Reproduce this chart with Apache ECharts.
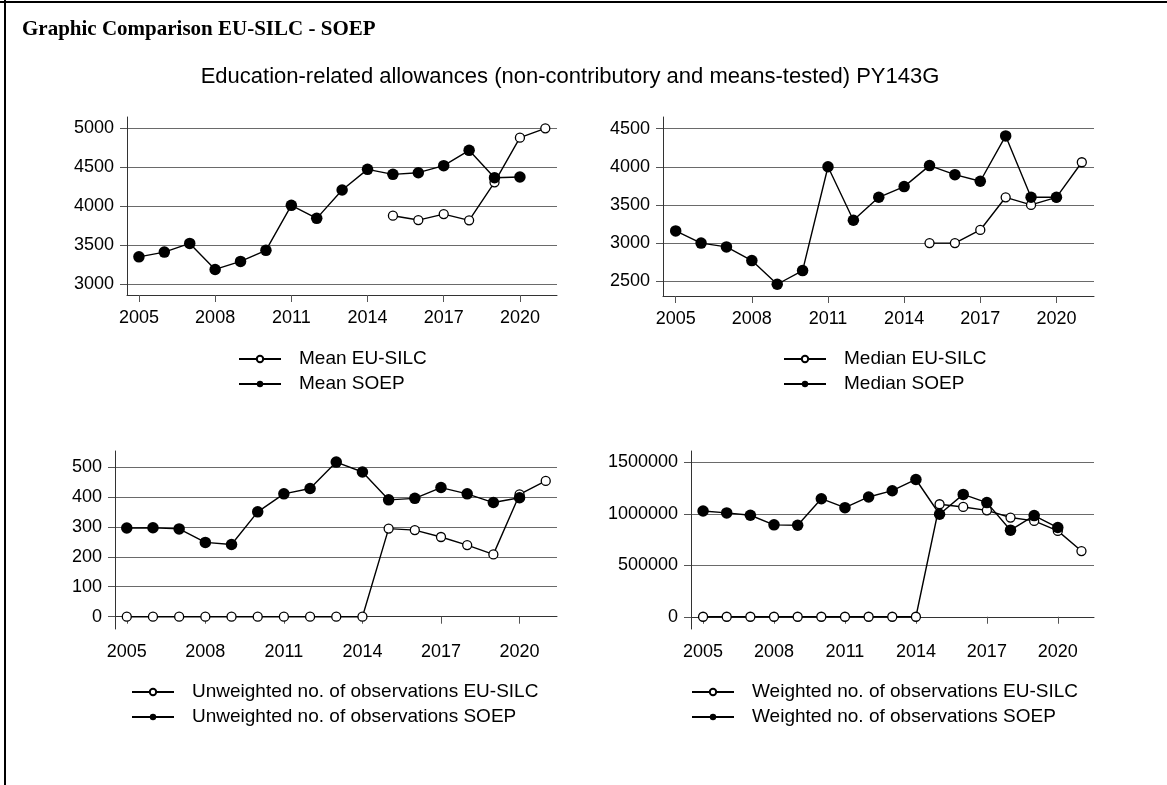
<!DOCTYPE html>
<html><head><meta charset="utf-8">
<script src="https://cdn.jsdelivr.net/npm/echarts@6/dist/echarts.min.js"></script>
<style>html,body{margin:0;padding:0;background:#fff}#c{width:1167px;height:785px}</style>
</head><body><div id="c"></div>
<script>
const years = [2005,2006,2007,2008,2009,2010,2011,2012,2013,2014,2015,2016,2017,2018,2019,2020,2021];
const meanEU = [null,null,null,null,null,null,null,null,null,null,3878,3822,3899,3818,4306,4880,5000];
const meanSOEP = [3350,3411,3522,3188,3291,3433,4011,3844,4208,4473,4409,4430,4520,4717,4366,4375,null];
const medianEU = [null,null,null,null,null,null,null,null,null,null,3000,3000,3172,3600,3500,3600,4059];
const medianSOEP = [3160,3000,2950,2771,2461,2640,4000,3300,3600,3740,4015,3897,3810,4404,3600,3600,null];
const unwEU = [0,0,0,0,0,0,0,0,0,0,294,289,266,239,208,408,453];
const unwSOEP = [296,297,293,248,241,350,410,428,516,483,390,395,431,410,381,397,null];
const wEU = [0,0,0,0,0,0,0,0,0,0,1094000,1068000,1035000,965000,932000,835000,639000];
const wSOEP = [1029000,1010000,987000,894000,890000,1148000,1061000,1165000,1226000,1335000,997000,1190000,1110000,842000,984000,868000,null];
const xTicks = [2005,2008,2011,2014,2017,2020];
const yTicks1 = [3000,3500,4000,4500,5000];
const yTicks2 = [2500,3000,3500,4000,4500];
const yTicks3 = [0,100,200,300,400,500];
const yTicks4 = [0,500000,1000000,1500000];
const names = [
  ['Mean EU-SILC','Mean SOEP'],
  ['Median EU-SILC','Median SOEP'],
  ['Unweighted no. of observations EU-SILC','Unweighted no. of observations SOEP'],
  ['Weighted no. of observations EU-SILC','Weighted no. of observations SOEP']
];
const title = 'Graphic Comparison EU-SILC - SOEP';
const subtitle = 'Education-related allowances (non-contributory and means-tested) PY143G';

const FONT = 'Liberation Sans, Arial, sans-serif';
function pairs(arr){ return years.map((y,i)=>[y,arr[i]]); }

const grids = [
  {left:127, top:117, width:430, height:178},
  {left:663, top:117, width:431, height:179},
  {left:115, top:451, width:442, height:178},
  {left:691, top:451, width:403, height:178}
];
const xr = [[2004.53,2021.46],[2004.5,2021.48],[2004.55,2021.43],[2004.49,2021.53]];
const yr = [[2860,5145],[2307,4652],[-41,553],[-119000,1612000]];
const yt = [yTicks1,yTicks2,yTicks3,yTicks4];
const series = [[meanEU,meanSOEP],[medianEU,medianSOEP],[unwEU,unwSOEP],[wEU,wSOEP]];

const axisLineStyle = {color:'#333', width:1};
const tickStyle = {color:'#555', width:1};
const fmt = v => String(Math.round(v));
const xAxis = grids.map((g,i)=>({
  type:'value', gridIndex:i, min:xr[i][0], max:xr[i][1],
  axisLine:{show:true, lineStyle:axisLineStyle},
  axisTick:{show:true, length:7, lineStyle:tickStyle, customValues:xTicks},
  axisLabel:{customValues:xTicks, formatter:fmt, fontFamily:FONT, fontSize:18, color:'#000', margin:14},
  splitLine:{show:false}
}));
const yAxis = grids.map((g,i)=>({
  type:'value', gridIndex:i, min:yr[i][0], max:yr[i][1],
  axisLine:{show:true, lineStyle:axisLineStyle},
  axisTick:{show:true, length:7, lineStyle:tickStyle, customValues:yt[i]},
  axisLabel:{customValues:yt[i], formatter:fmt, fontFamily:FONT, fontSize:18, color:'#000', margin:13},
  splitLine:{show:true, lineStyle:{color:'#6a6a6a', width:1}}
}));
const seriesOpt = [];
series.forEach((pair,i)=>{
  seriesOpt.push({
    name:names[i][0], type:'line', xAxisIndex:i, yAxisIndex:i, data:pairs(pair[0]),
    symbol:'circle', symbolSize:9, showAllSymbol:true, connectNulls:false,
    lineStyle:{color:'#000', width:1.4},
    itemStyle:{color:'#fff', borderColor:'#000', borderWidth:1.3},
    emphasis:{disabled:true}, animation:false, z:2
  });
  seriesOpt.push({
    name:names[i][1], type:'line', xAxisIndex:i, yAxisIndex:i, data:pairs(pair[1]),
    symbol:'circle', symbolSize:11.5, showAllSymbol:true, connectNulls:false,
    lineStyle:{color:'#000', width:1.4},
    itemStyle:{color:'#000', borderColor:'#000', borderWidth:0},
    emphasis:{disabled:true}, animation:false, z:3
  });
});
const legendPos = [[238,349],[783,349],[131,682],[691,682]];
const legend = names.map((n,i)=>({
  data:n, orient:'vertical', left:legendPos[i][0], top:legendPos[i][1], padding:0,
  itemWidth:42, itemHeight:8, itemGap:5, selectedMode:false,
  lineStyle:{width:2},
  textStyle:{fontFamily:FONT, fontSize:19, color:'#000', lineHeight:20, padding:[0,0,0,13]}
}));

const chart = echarts.init(document.getElementById('c'), null, {renderer:'canvas'});
chart.setOption({
  animation:false,
  backgroundColor:'#fff',
  grid:grids,
  xAxis:xAxis, yAxis:yAxis,
  legend:legend,
  series:seriesOpt,
  graphic:[
    {type:'line', shape:{x1:0,y1:2,x2:1167,y2:2}, style:{stroke:'#000', lineWidth:2}},
    {type:'line', shape:{x1:5,y1:0,x2:5,y2:785}, style:{stroke:'#000', lineWidth:2}},
    {type:'text', x:22, y:30, style:{text:title, font:'bold 21px "Liberation Serif", "Times New Roman", serif', fill:'#000', verticalAlign:'middle'}},
    {type:'text', x:570, y:77, style:{text:subtitle, font:'22px "Liberation Sans", Arial, sans-serif', fill:'#000', align:'center', verticalAlign:'middle'}}
  ]
});
</script></body></html>
